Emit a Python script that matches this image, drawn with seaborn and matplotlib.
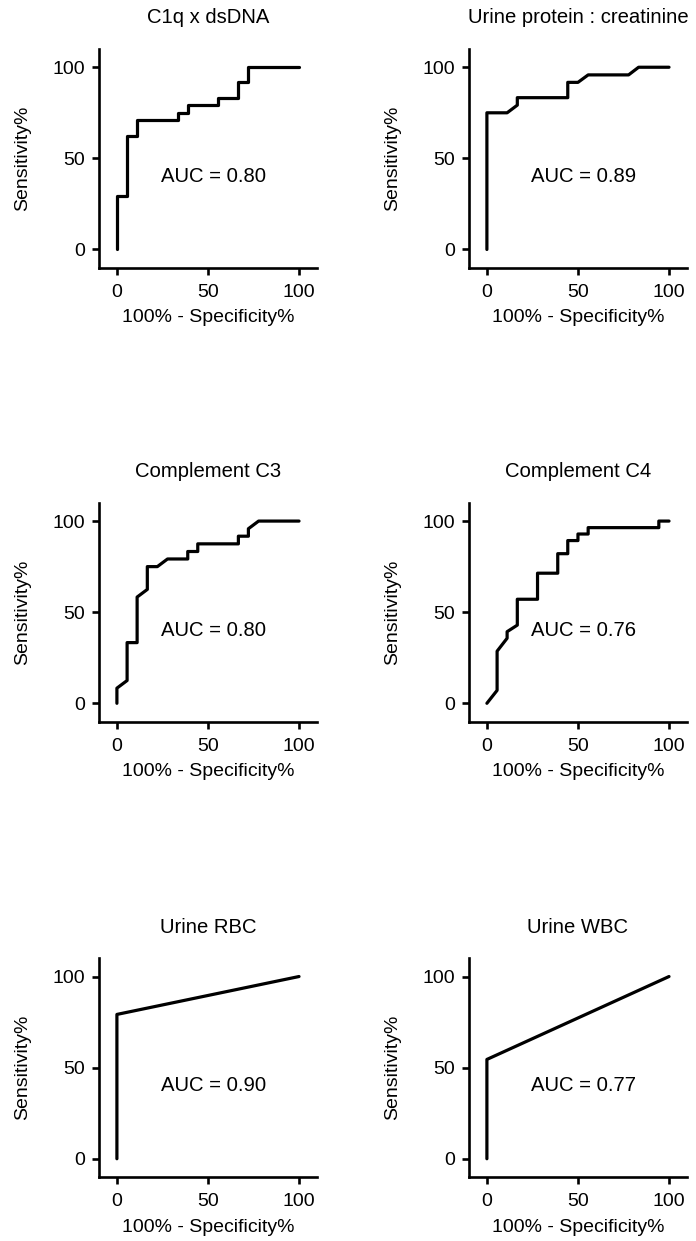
import matplotlib
matplotlib.use("Agg")
import matplotlib.pyplot as plt
import seaborn as sns
import pandas as pd

# ---- data ----
titles = ["C1q x dsDNA", "Urine protein : creatinine", "Complement C3",
          "Complement C4", "Urine RBC", "Urine WBC"]
auc_labels = ["AUC = 0.80", "AUC = 0.89", "AUC = 0.80",
              "AUC = 0.76", "AUC = 0.90", "AUC = 0.77"]

c1q_fpr = [0, 0, 5.6, 5.6, 11.1, 11.1, 33.3, 33.3, 38.9, 38.9, 55.6, 55.6, 66.7, 66.7, 72.2, 72.2, 100]
c1q_tpr = [0, 29.2, 29.2, 62.5, 62.5, 70.8, 70.8, 75.0, 75.0, 79.2, 79.2, 83.3, 83.3, 91.7, 91.7, 100, 100]

upcr_fpr = [0, 0, 11.1, 16.7, 16.7, 44.4, 44.4, 50.0, 55.6, 77.8, 83.3, 100]
upcr_tpr = [0, 75.0, 75.0, 79.2, 83.3, 83.3, 91.7, 91.7, 95.8, 95.8, 100, 100]

c3_fpr = [0, 0, 5.6, 5.6, 11.1, 11.1, 16.7, 16.7, 22.2, 27.8, 38.9, 38.9, 44.4, 44.4, 66.7, 66.7, 72.2, 72.2, 77.8, 100]
c3_tpr = [0, 8.3, 12.5, 33.3, 33.3, 58.3, 62.5, 75.0, 75.0, 79.2, 79.2, 83.3, 83.3, 87.5, 87.5, 91.7, 91.7, 95.8, 100, 100]

c4_fpr = [0, 5.6, 5.6, 11.1, 11.1, 16.7, 16.7, 27.8, 27.8, 38.9, 38.9, 44.4, 44.4, 50.0, 50.0, 55.6, 55.6, 94.4, 94.4, 100]
c4_tpr = [0, 7.1, 28.6, 35.7, 39.3, 42.9, 57.1, 57.1, 71.4, 71.4, 82.1, 82.1, 89.3, 89.3, 92.9, 92.9, 96.4, 96.4, 100, 100]

rbc_fpr = [0, 0, 100]
rbc_tpr = [0, 79.2, 100]

wbc_fpr = [0, 0, 100]
wbc_tpr = [0, 54.5, 100]

xticks = [0, 50, 100]
yticks = [0, 50, 100]
xlabel = "100% - Specificity%"
ylabel = "Sensitivity%"

curves = [(c1q_fpr, c1q_tpr), (upcr_fpr, upcr_tpr), (c3_fpr, c3_tpr),
          (c4_fpr, c4_tpr), (rbc_fpr, rbc_tpr), (wbc_fpr, wbc_tpr)]

# ---- style ----
sns.set_style("ticks")
plt.rcParams["font.family"] = ["Liberation Sans", "DejaVu Sans"]
plt.rcParams["font.size"] = 14
plt.rcParams["axes.linewidth"] = 1.9
plt.rcParams["xtick.major.width"] = 1.9
plt.rcParams["ytick.major.width"] = 1.9
plt.rcParams["xtick.major.size"] = 5
plt.rcParams["ytick.major.size"] = 5
plt.rcParams["xtick.major.pad"] = 6.8
plt.rcParams["ytick.major.pad"] = 5
plt.rcParams["text.color"] = "black"
plt.rcParams["axes.labelcolor"] = "black"
plt.rcParams["xtick.color"] = "black"
plt.rcParams["ytick.color"] = "black"
plt.rcParams["axes.edgecolor"] = "black"

fig = plt.figure(figsize=(6.96, 12.41), dpi=100)

lefts = [0.1418, 0.6734]
bottoms = [0.7843, 0.4186, 0.0516]
w = 0.3140
h = 0.1762

for i, (title, auc, (fx, ty)) in enumerate(zip(titles, auc_labels, curves)):
    r, c = divmod(i, 2)
    ax = fig.add_axes([lefts[c], bottoms[r], w, h])
    df = pd.DataFrame({"fpr": fx, "tpr": ty})
    sns.lineplot(data=df, x="fpr", y="tpr", sort=False, estimator=None,
                 color="black", linewidth=2.3, ax=ax)
    ax.set_xlim(-10, 110)
    ax.set_ylim(-10, 110)
    ax.set_xticks(xticks)
    ax.set_yticks(yticks)
    ax.set_xlabel(xlabel, fontsize=14, labelpad=6)
    ax.set_ylabel(ylabel, fontsize=14, labelpad=15)
    ax.set_title(title, fontsize=14.6, pad=18.5)
    ax.tick_params(labelsize=14)
    ax.text(53, 40, auc, ha="center", va="center", fontsize=14.6)
    sns.despine(ax=ax)

fig.savefig("out.png", dpi=100)
